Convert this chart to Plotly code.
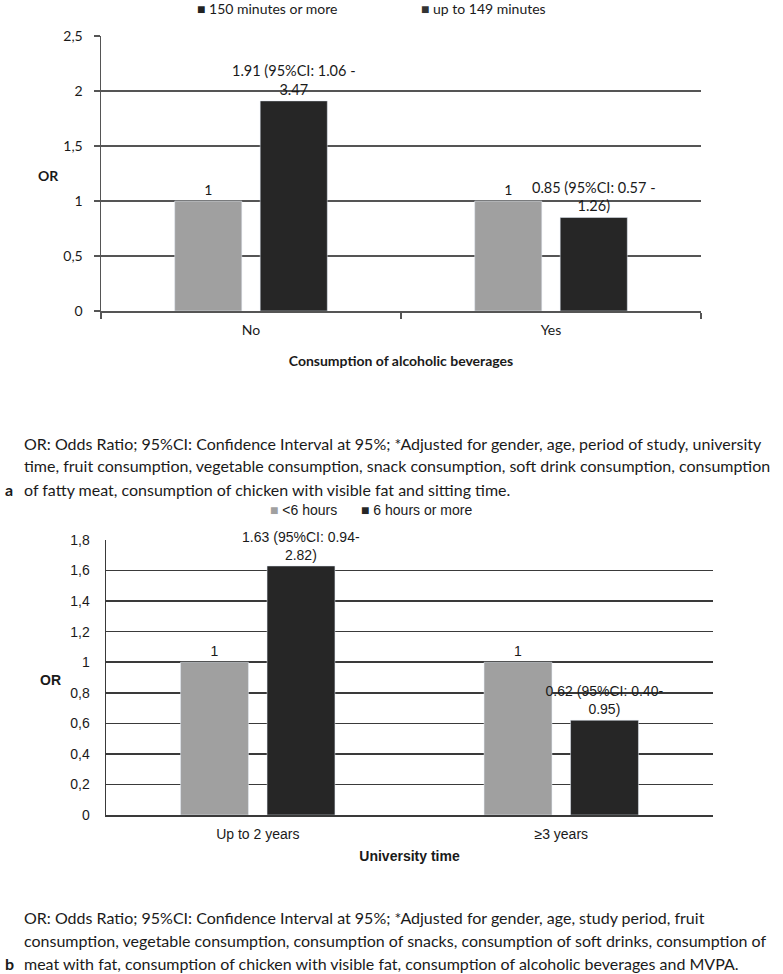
import plotly.graph_objects as go

# ---------------- data ----------------
cats_a = ["No", "Yes"]
series_a_names = ["150 minutes or more", "up to 149 minutes"]
vals_a_ref = [1, 1]
vals_a_cmp = [1.91, 0.85]
text_a_ref = ["1", "1"]
text_a_cmp = ["1.91 (95%CI: 1.06 -<br>3.47", "0.85 (95%CI: 0.57 -<br>1.26)"]
yticks_a = [0, 0.5, 1, 1.5, 2, 2.5]

cats_b = ["Up to 2 years", "≥3 years"]
series_b_names = ["<6 hours", "6 hours or more"]
vals_b_ref = [1, 1]
vals_b_cmp = [1.63, 0.62]
text_b_ref = ["1", "1"]
text_b_cmp = ["1.63 (95%CI: 0.94-<br>2.82)", "0.62 (95%CI: 0.40-<br>0.95)"]
yticks_b = [0, 0.2, 0.4, 0.6, 0.8, 1, 1.2, 1.4, 1.6, 1.8]

foot_a = [
    "OR: Odds Ratio; 95%CI: Confidence Interval at 95%; *Adjusted for gender, age, period of study, university",
    "time, fruit consumption, vegetable consumption, snack consumption, soft drink consumption, consumption",
    "of fatty meat, consumption of chicken with visible fat and sitting time.",
]
foot_b = [
    "OR: Odds Ratio; 95%CI: Confidence Interval at 95%; *Adjusted for gender, age, study period, fruit",
    "consumption, vegetable consumption, consumption of snacks, consumption of soft drinks, consumption of",
    "meat with fat, consumption of chicken with visible fat, consumption of alcoholic beverages and MVPA.",
]

# ---------------- style ----------------
W, H = 783, 974
LIGHT = "#a0a0a0"
DARK = "#262626"
FA = "Lato, Carlito, Calibri, sans-serif"
FB = "Liberation Sans, Arial, sans-serif"
TXT = "#1a1a1a"


def px(x):
    return x / W


def py(y):
    return 1 - y / H


fig = go.Figure()

common = dict(textposition="outside", constraintext="none", cliponaxis=False,
              showlegend=False, hoverinfo="skip")

fig.add_trace(go.Bar(x=cats_a, y=vals_a_ref, text=text_a_ref, marker_color=LIGHT,
                     name=series_a_names[0], xaxis="x", yaxis="y",
                     outsidetextfont=dict(family=FA, size=14, color=TXT), **common))
fig.add_trace(go.Bar(x=cats_a, y=vals_a_cmp, text=text_a_cmp, marker_color=DARK,
                     name=series_a_names[1], xaxis="x", yaxis="y",
                     outsidetextfont=dict(family=FA, size=14.5, color=TXT), **common))
fig.add_trace(go.Bar(x=cats_b, y=vals_b_ref, text=text_b_ref, marker_color=LIGHT,
                     name=series_b_names[0], xaxis="x2", yaxis="y2",
                     outsidetextfont=dict(family=FB, size=14, color=TXT), **common))
fig.add_trace(go.Bar(x=cats_b, y=vals_b_cmp, text=text_b_cmp, marker_color=DARK,
                     name=series_b_names[1], xaxis="x2", yaxis="y2",
                     outsidetextfont=dict(family=FB, size=14, color=TXT), **common))

GA = "#555555"
GB = "#3a3a3a"

fig.update_layout(
    width=W, height=H,
    margin=dict(l=0, r=0, t=0, b=0, autoexpand=False),
    paper_bgcolor="white", plot_bgcolor="white",
    separators=",.",
    barmode="group", bargap=0.43, bargroupgap=0.215,
    xaxis=dict(domain=[px(101), px(701)], anchor="y",
               showline=True, linecolor=GA, linewidth=1.5,
               ticks="outside", tickson="boundaries", ticklen=6, tickcolor=GA, tickwidth=1.5,
               tickfont=dict(family=FA, size=14, color=TXT), ticklabelstandoff=6,
               title=dict(text="<b>Consumption of alcoholic beverages</b>", standoff=19,
                          font=dict(family=FA, size=14, color=TXT)),
               automargin=False, fixedrange=True),
    yaxis=dict(domain=[py(311), py(36)], anchor="x", range=[0, 2.5],
               tickvals=yticks_a, showgrid=True, gridcolor=GA, gridwidth=1.5,
               showline=True, linecolor=GA, linewidth=1.5, zeroline=False,
               ticks="outside", ticklen=6, tickcolor=GA, tickwidth=1.5,
               tickfont=dict(family=FA, size=14, color=TXT), ticklabelstandoff=8,
               automargin=False, fixedrange=True),
    xaxis2=dict(domain=[px(106), px(713)], anchor="y2",
                showline=True, linecolor=GB, linewidth=1.5, ticks="",
                tickfont=dict(family=FB, size=14, color=TXT), ticklabelstandoff=6,
                title=dict(text="<b>University time</b>", standoff=10,
                           font=dict(family=FB, size=14, color=TXT)),
                automargin=False, fixedrange=True),
    yaxis2=dict(domain=[py(815), py(540)], anchor="x2", range=[0, 1.8],
                tickvals=yticks_b, showgrid=True, gridcolor=GB, gridwidth=1.5,
                showline=True, linecolor=GB, linewidth=1.5, zeroline=False, ticks="",
                tickfont=dict(family=FB, size=14, color=TXT), ticklabelstandoff=12,
                automargin=False, fixedrange=True),
)

ann = []
# "OR" labels
ann.append(dict(text="<b>OR</b>", x=px(48), y=py(175), xref="paper", yref="paper",
                xanchor="center", yanchor="middle", showarrow=False,
                font=dict(family=FA, size=14, color=TXT)))
ann.append(dict(text="<b>OR</b>", x=px(51), y=py(680), xref="paper", yref="paper",
                xanchor="center", yanchor="middle", showarrow=False,
                font=dict(family=FB, size=14, color=TXT)))

# legends (drawn as text)
ann.append(dict(text="<span style='color:#222'>■</span> " + series_a_names[0],
                x=px(195), y=py(9), xref="paper", yref="paper", xanchor="left", yanchor="middle",
                showarrow=False, font=dict(family=FA, size=14, color=TXT)))
ann.append(dict(text="<span style='color:#333'>■</span> " + series_a_names[1],
                x=px(419), y=py(9), xref="paper", yref="paper", xanchor="left", yanchor="middle",
                showarrow=False, font=dict(family=FA, size=14, color=TXT)))
ann.append(dict(text="<span style='color:%s'>■</span> " % LIGHT + series_b_names[0].replace("<", "&lt;"),
                x=px(268), y=py(510), xref="paper", yref="paper", xanchor="left", yanchor="middle",
                showarrow=False, font=dict(family=FB, size=14, color=TXT)))
ann.append(dict(text="<span style='color:%s'>■</span> " % DARK + series_b_names[1],
                x=px(359), y=py(510), xref="paper", yref="paper", xanchor="left", yanchor="middle",
                showarrow=False, font=dict(family=FB, size=14, color=TXT)))

# footnotes
for i, line in enumerate(foot_a):
    ann.append(dict(text=line, x=px(22), y=py(443 + 23 * i), xref="paper", yref="paper",
                    xanchor="left", yanchor="middle", showarrow=False,
                    font=dict(family=FA, size=16, color=TXT)))
for i, line in enumerate(foot_b):
    ann.append(dict(text=line, x=px(22), y=py(917 + 23 * i), xref="paper", yref="paper",
                    xanchor="left", yanchor="middle", showarrow=False,
                    font=dict(family=FA, size=16, color=TXT)))
ann.append(dict(text="<b>a</b>", x=px(3), y=py(489), xref="paper", yref="paper",
                xanchor="left", yanchor="middle", showarrow=False,
                font=dict(family=FA, size=16, color=TXT)))
ann.append(dict(text="<b>b</b>", x=px(3), y=py(963), xref="paper", yref="paper",
                xanchor="left", yanchor="middle", showarrow=False,
                font=dict(family=FA, size=16, color=TXT)))

fig.update_layout(annotations=ann)

fig.write_html("out.html",
               config={"displayModeBar": False, "staticPlot": True},
               post_script="document.body.style.margin='0';document.body.style.overflow='hidden';")
